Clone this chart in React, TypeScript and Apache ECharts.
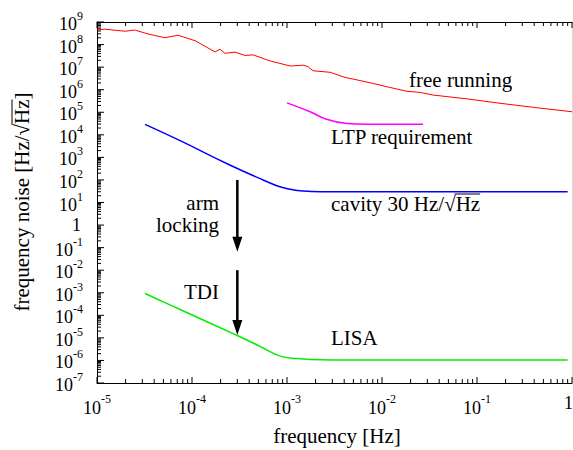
import React, { useEffect, useRef } from 'react';
import * as echarts from 'echarts';

// ---- data ----
const freeRunningFreq = [1e-5, 1.21e-5, 1.97e-5, 2.5e-5, 3.44e-5, 5.2e-5, 7.1e-5, 1.08e-4, 1.75e-4, 1.97e-4, 2.22e-4, 2.84e-4, 3.61e-4, 4.39e-4, 6.6e-4, 1.08e-3, 1.5e-3, 1.66e-3, 1.88e-3, 2.84e-3, 4.08e-3, 5.5e-3, 8.0e-3, 1.21e-2, 1.83e-2, 2.5e-2, 3.44e-2, 7.9e-2, 0.175, 0.39, 1];
const freeRunningNoise = [4.4e8, 4.8e8, 3.9e8, 4.4e8, 2.95e8, 2.0e8, 2.6e8, 1.48e8, 4.7e7, 6.2e7, 4.1e7, 4.6e7, 3.3e7, 3.5e7, 1.9e7, 1.12e7, 1.22e7, 1.05e7, 6.9e6, 5.9e6, 3.5e6, 2.7e6, 1.9e6, 1.26e6, 8.5e5, 7.6e5, 5.8e5, 3.9e5, 2.5e5, 1.66e5, 1.05e5];

const ltpFreq = [1e-3, 1.75e-3, 2.6e-3, 4.25e-3, 7e-3, 2.7e-2];
const ltpNoise = [2.6e5, 1.05e5, 4.9e4, 3.2e4, 2.95e4, 2.95e4];

const cavityFreq = [3.2e-5, 7.5e-5, 2.5e-4, 5.6e-4, 8.4e-4, 1.3e-3, 1.8e-3, 3e-3, 0.9];
const cavityNoise = [2.9e4, 5.5e3, 460, 100, 50, 34, 31, 30, 30];

const lisaFreq = [3.2e-5, 7.5e-5, 2.9e-4, 5.2e-4, 7.2e-4, 9.1e-4, 1.25e-3, 1.75e-3, 3e-3, 0.9];
const lisaNoise = [9.3e-4, 1.8e-4, 1.35e-5, 4.2e-6, 2.05e-6, 1.44e-6, 1.22e-6, 1.1e-6, 1.05e-6, 1.05e-6];

// arrows: [frequency, start value, end value]
const arrowFreq = [3e-4, 3e-4];
const arrowFrom = [100, 0.01];
const arrowTo = [0.066, 1.35e-5];

// axes
const xMin = 1e-5;
const xMax = 1;
const yMin = 1e-7;
const yMax = 1e9;
const xTickExponents = [-5, -4, -3, -2, -1, 0];
const yTickExponents = [-7, -6, -5, -4, -3, -2, -1, 0, 1, 2, 3, 4, 5, 6, 7, 8, 9];
const minorMultipliers = [2, 3, 4, 5, 6, 7, 8, 9];

const FONT = '"Liberation Serif", "Times New Roman", serif';
const BIG = `18px ${FONT}`;
const SMALL = `12px ${FONT}`;
const NOTE = `21px ${FONT}`;

function zip(a: number[], b: number[]) {
  return a.map((v, i) => [v, b[i]]);
}

let measureCtx: CanvasRenderingContext2D | null = null;
function textWidth(text: string, font: string) {
  if (!measureCtx) measureCtx = document.createElement('canvas').getContext('2d');
  if (!measureCtx) return text.length * 8;
  measureCtx.font = font;
  return measureCtx.measureText(text).width;
}

export default function App() {
  const ref = useRef<HTMLDivElement>(null);

  useEffect(() => {
    if (!ref.current) return;
    const chart = echarts.init(ref.current, undefined, { renderer: 'svg' });

    const xMinor: number[][] = [];
    xTickExponents.slice(0, -1).forEach((e) => minorMultipliers.forEach((m) => xMinor.push([m * Math.pow(10, e), 1])));
    const yMinor: number[][] = [];
    yTickExponents.slice(0, -1).forEach((e) => minorMultipliers.forEach((m) => yMinor.push([1e-3, m * Math.pow(10, e)])));

    const w10 = textWidth('10', BIG);

    const lineSeries = (name: string, data: number[][], color: string, width: number, smooth: boolean) => ({
      type: 'line',
      name,
      data,
      showSymbol: false,
      symbol: 'none',
      smooth: smooth ? 0.45 : false,
      lineStyle: { color, width },
      silent: true,
      z: 3,
    });

    const txt = (text: string, x: number, y: number, font: string, align: string, lh: number) => ({
      type: 'text',
      x,
      y,
      style: { text, font, fill: '#000', align, verticalAlign: 'middle', lineHeight: lh },
    });

    const axisCommon = {
      axisTick: { show: false }, axisLabel: { show: false }, splitLine: { show: false },
    };

    // overline positions for the square roots
    const cavX = 331;
    const cavStart = cavX + textWidth('cavity 30 Hz/√', NOTE);
    const cavEnd = cavX + textWidth('cavity 30 Hz/√Hz', NOTE);
    const yTitle = 'frequency noise [Hz/√Hz]';
    const yTitleLen = textWidth(yTitle, NOTE);
    const yTitleCy = 202;
    const yStartOff = textWidth('frequency noise [Hz/√', NOTE);
    const yEndOff = textWidth('frequency noise [Hz/√Hz', NOTE);
    const yBottom = yTitleCy + yTitleLen / 2;

    const option: any = {
      animation: false,
      grid: { left: 97, right: 1, top: 22, bottom: 67, containLabel: false },
      xAxis: [
        { type: 'log', logBase: 10, min: xMin, max: xMax, position: 'bottom', axisLine: { show: true, onZero: false, lineStyle: { color: '#000', width: 1 } }, ...axisCommon },
        { type: 'log', logBase: 10, min: xMin, max: xMax, position: 'top', axisLine: { show: true, onZero: false, lineStyle: { color: '#000', width: 1 } }, ...axisCommon },
      ],
      yAxis: [
        { type: 'log', logBase: 10, min: yMin, max: yMax, position: 'left', axisLine: { show: true, onZero: false, lineStyle: { color: '#000', width: 1 } }, ...axisCommon },
        { type: 'log', logBase: 10, min: yMin, max: yMax, position: 'right', axisLine: { show: true, onZero: false, lineStyle: { color: '#d8d8d8', width: 1 } }, ...axisCommon },
      ],
      series: [
        lineSeries('free running', zip(freeRunningFreq, freeRunningNoise), '#ff0000', 1, false),
        lineSeries('LTP requirement', zip(ltpFreq, ltpNoise), '#ff00ff', 1.5, true),
        lineSeries('cavity', zip(cavityFreq, cavityNoise), '#0000ff', 1.5, true),
        lineSeries('LISA', zip(lisaFreq, lisaNoise), '#00ee00', 1.5, true),
        {
          type: 'custom',
          name: 'arrows',
          clip: false,
          silent: true,
          z: 4,
          data: arrowFreq.map((f, i) => [f, arrowFrom[i], arrowTo[i]]),
          renderItem: (params: any, api: any) => {
            const p1 = api.coord([api.value(0), api.value(1)]);
            const p2 = api.coord([api.value(0), api.value(2)]);
            const head = 15;
            const hw = 5;
            return {
              type: 'group',
              children: [
                { type: 'line', shape: { x1: p1[0], y1: p1[1], x2: p2[0], y2: p2[1] - head + 2 }, style: { stroke: '#000', lineWidth: 2.5 } },
                { type: 'polygon', shape: { points: [[p2[0] - hw, p2[1] - head], [p2[0] + hw, p2[1] - head], [p2[0], p2[1]]] }, style: { fill: '#000' } },
              ],
            };
          },
        },
        {
          type: 'custom',
          name: 'xminor',
          clip: false,
          silent: true,
          data: xMinor,
          renderItem: (params: any, api: any) => {
            const cs = params.coordSys;
            const p = api.coord([api.value(0), api.value(1)]);
            const bottom = cs.y + cs.height;
            return {
              type: 'group',
              children: [
                { type: 'line', shape: { x1: p[0], y1: bottom, x2: p[0], y2: bottom - 4 }, style: { stroke: '#000', lineWidth: 1 } },
                { type: 'line', shape: { x1: p[0], y1: cs.y, x2: p[0], y2: cs.y + 4 }, style: { stroke: '#000', lineWidth: 1 } },
              ],
            };
          },
        },
        {
          type: 'custom',
          name: 'yminor',
          clip: false,
          silent: true,
          data: yMinor,
          renderItem: (params: any, api: any) => {
            const cs = params.coordSys;
            const p = api.coord([api.value(0), api.value(1)]);
            return {
              type: 'line',
              shape: { x1: cs.x, y1: p[1], x2: cs.x + 4, y2: p[1] },
              style: { stroke: '#000', lineWidth: 1 },
            };
          },
        },
        {
          type: 'custom',
          name: 'xmajor',
          clip: false,
          silent: true,
          data: xTickExponents.map((e) => [Math.pow(10, e), 1, e]),
          renderItem: (params: any, api: any) => {
            const cs = params.coordSys;
            const p = api.coord([api.value(0), api.value(1)]);
            const bottom = cs.y + cs.height;
            const e = api.value(2);
            const children: any[] = [
              { type: 'line', shape: { x1: p[0], y1: bottom, x2: p[0], y2: bottom - 6 }, style: { stroke: '#000', lineWidth: 1 } },
              { type: 'line', shape: { x1: p[0], y1: cs.y, x2: p[0], y2: cs.y + 6 }, style: { stroke: '#000', lineWidth: 1 } },
            ];
            if (e === 0) {
              children.push(txt('1', Math.min(p[0] + 4, cs.x + cs.width + 1), bottom + 20, BIG, 'right', 16));
            } else {
              const es = String(e);
              const we = textWidth(es, SMALL);
              const left = p[0] - (w10 + we) / 2;
              children.push(txt('10', left, bottom + 25, BIG, 'left', 16));
              children.push(txt(es, left + w10, bottom + 16, SMALL, 'left', 11));
            }
            return { type: 'group', children };
          },
        },
        {
          type: 'custom',
          name: 'ymajor',
          clip: false,
          silent: true,
          data: yTickExponents.map((e) => [1e-3, Math.pow(10, e), e]),
          renderItem: (params: any, api: any) => {
            const cs = params.coordSys;
            const p = api.coord([api.value(0), api.value(1)]);
            const e = api.value(2);
            const right = cs.x - 14;
            const children: any[] = [
              { type: 'line', shape: { x1: cs.x, y1: p[1], x2: cs.x + 7, y2: p[1] }, style: { stroke: '#000', lineWidth: 1 } },
            ];
            if (e === 0) {
              children.push(txt('1', right - 2, p[1], BIG, 'right', 16));
            } else {
              const es = String(e);
              const we = textWidth(es, SMALL);
              children.push(txt(es, right, p[1] - 6, SMALL, 'right', 11));
              children.push(txt('10', right - we, p[1] + 2, BIG, 'right', 16));
            }
            return { type: 'group', children };
          },
        },
      ],
      graphic: [
        { type: 'text', x: 409, y: 80, style: { text: 'free running', font: NOTE, fill: '#000', align: 'left', verticalAlign: 'middle' } },
        { type: 'text', x: 331, y: 137, style: { text: 'LTP requirement', font: NOTE, fill: '#000', align: 'left', verticalAlign: 'middle' } },
        { type: 'text', x: cavX, y: 204, style: { text: 'cavity 30 Hz/√Hz', font: NOTE, fill: '#000', align: 'left', verticalAlign: 'middle' } },
        { type: 'line', shape: { x1: cavStart - 1, y1: 194, x2: cavEnd, y2: 194 }, style: { stroke: '#000', lineWidth: 1 } },
        { type: 'text', x: 331, y: 338, style: { text: 'LISA', font: NOTE, fill: '#000', align: 'left', verticalAlign: 'middle' } },
        { type: 'text', x: 219, y: 203, style: { text: 'arm', font: NOTE, fill: '#000', align: 'right', verticalAlign: 'middle' } },
        { type: 'text', x: 219, y: 225, style: { text: 'locking', font: NOTE, fill: '#000', align: 'right', verticalAlign: 'middle' } },
        { type: 'text', x: 219, y: 292, style: { text: 'TDI', font: NOTE, fill: '#000', align: 'right', verticalAlign: 'middle' } },
        { type: 'text', x: 337, y: 436, style: { text: 'frequency [Hz]', font: NOTE, fill: '#000', align: 'center', verticalAlign: 'middle' } },
        { type: 'text', x: 22, y: yTitleCy, rotation: Math.PI / 2, style: { text: yTitle, font: NOTE, fill: '#000', align: 'center', verticalAlign: 'middle' } },
        { type: 'line', shape: { x1: 12, y1: yBottom - yStartOff + 1, x2: 12, y2: yBottom - yEndOff }, style: { stroke: '#000', lineWidth: 1 } },
      ],
    };

    chart.setOption(option);
    return () => chart.dispose();
  }, []);

  return <div ref={ref} style={{ position: 'fixed', left: 0, top: 0, width: 573, height: 450, background: '#fff' }} />;
}
